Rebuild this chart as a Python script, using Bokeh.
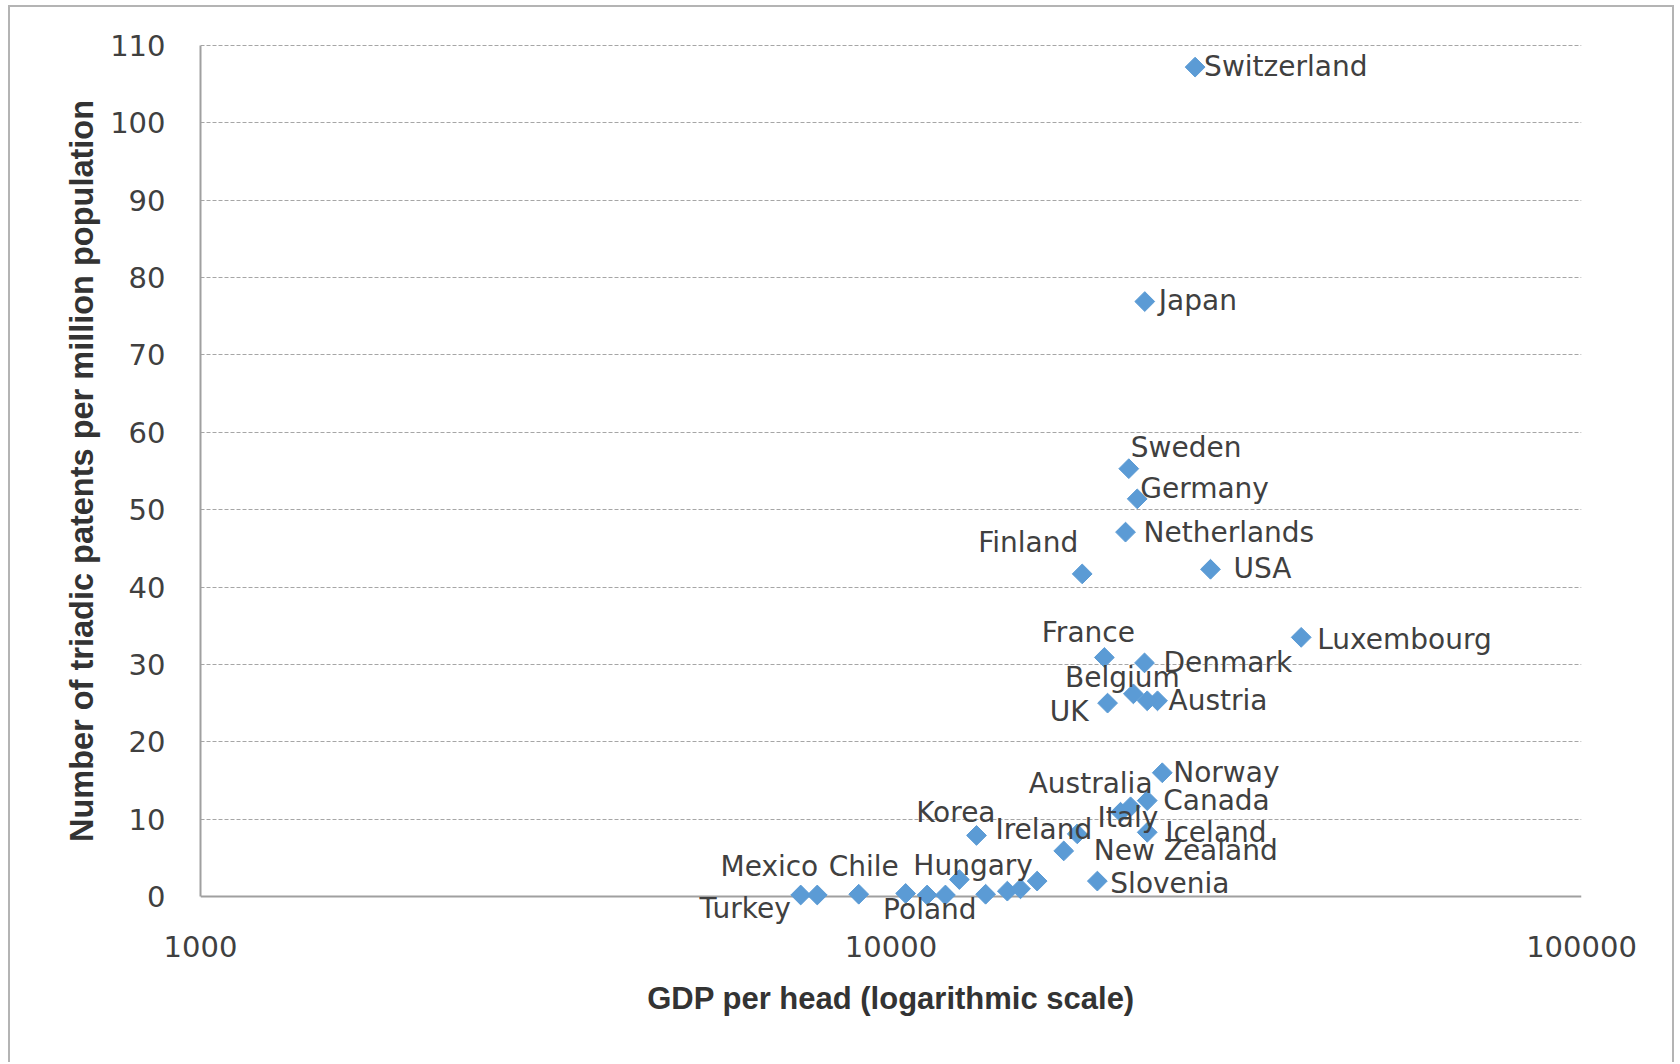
import math
from bokeh.plotting import figure
from bokeh.models import (ColumnDataSource, FixedTicker, PrintfTickFormatter,
                          LabelSet, Span, Range1d)
from bokeh.core.properties import value
from bokeh.embed import file_html
from bokeh.resources import INLINE

# ---------------- data ----------------
labels = ["Switzerland", "Japan", "Sweden", "Germany", "Netherlands", "Finland", "USA",
          "Luxembourg", "France", "Denmark", "Belgium", "Austria", "", "UK",
          "Norway", "Canada", "Italy", "Australia", "Iceland", "Ireland", "New Zealand",
          "Slovenia", "Korea", "Hungary", "", "Turkey", "Mexico", "Chile", "", "Poland",
          "", "", "", ""]
gdp_per_head = [27570, 23310, 22100, 22730, 21860, 18920, 29020,
                39270, 20370, 23290, 22440, 24320, 23500, 20590,
                24710, 23500, 22230, 21500, 23500, 18610, 17790,
                19900, 13300, 12560, 16280, 7400, 7820, 8980, 10500, 11280,
                11990, 13710, 14740, 15400]
patents_per_million = [107.2, 76.9, 55.3, 51.4, 47.1, 41.7, 42.3,
                       33.5, 30.9, 30.2, 26.2, 25.3, 25.3, 25.0,
                       16.0, 12.4, 11.6, 10.9, 8.3, 8.1, 5.9,
                       2.0, 7.9, 2.2, 2.0, 0.2, 0.2, 0.3, 0.4, 0.2,
                       0.2, 0.3, 0.7, 1.0]
x_ticks = [1000, 10000, 100000]
y_ticks = [0, 10, 20, 30, 40, 50, 60, 70, 80, 90, 100, 110]

# ---------------- label placement (layout only: align, dx, dy in px, dy down) ----------------
placement = {
    "Switzerland": ("left", 9, -1), "Japan": ("left", 14, -1),
    "Sweden": ("left", 2, -21), "Germany": ("left", 3, -10),
    "Netherlands": ("left", 18, 0), "Finland": ("right", -4, -31),
    "USA": ("left", 23, -1), "Luxembourg": ("left", 16, 2),
    "France": ("center", -16, -25), "Denmark": ("left", 19, 0),
    "Belgium": ("center", -11, -16), "Austria": ("left", 11, 0),
    "UK": ("right", -19, 8), "Norway": ("left", 11, 0),
    "Canada": ("left", 16, 0), "Italy": ("left", -33, 11),
    "Australia": ("right", 32, -29), "Iceland": ("left", 18, 0),
    "Ireland": ("right", 15, -4), "New Zealand": ("left", 30, 0),
    "Slovenia": ("left", 13, 2), "Korea": ("right", 19, -23),
    "Hungary": ("left", -46, -14), "Mexico": ("right", 1, -29),
    "Chile": ("left", -30, -28), "Turkey": ("right", -10, 13),
    "Poland": ("left", -44, 14),
}

TEXT = "#404040"
FONT = "DejaVu Sans"
AXIS_GREY = "#a0a0a0"

# the frame is padded by 4 units above and below so that labels under the
# zero line are not clipped and the y title stays centred on the 0-110 span
p = figure(width=1666, height=1057, x_axis_type="log",
           x_range=Range1d(1000, 100000), y_range=Range1d(-4, 114),
           output_backend="svg", toolbar_location=None,
           min_border_left=190, min_border_right=95,
           min_border_top=7, min_border_bottom=137)
p.margin = (5, 0, 0, 8)
p.styles = {"border-left": "2px solid #b4b4b4",
            "border-top": "2px solid #b4b4b4",
            "border-right": "2px solid #b4b4b4"}
p.outline_line_color = None
p.background_fill_color = "white"
p.border_fill_color = "white"

# grid
p.xgrid.visible = False
p.ygrid.ticker = FixedTicker(ticks=y_ticks[1:])
p.ygrid.grid_line_color = "#a6a6a6"
p.ygrid.grid_line_dash = "4 2"
p.ygrid.grid_line_width = 1

# axes
for ax in (p.xaxis[0], p.yaxis[0]):
    ax.major_tick_line_color = None
    ax.minor_tick_line_color = None
    ax.major_label_text_font = FONT
    ax.major_label_text_font_size = "29px"
    ax.major_label_text_color = TEXT
    ax.axis_label_text_font_style = "bold"
    ax.axis_label_text_color = "#333333"

p.xaxis.axis_line_color = None
p.xaxis.ticker = FixedTicker(ticks=x_ticks)
p.xaxis.formatter = PrintfTickFormatter(format="%d")
p.xaxis.major_label_standoff = 2
p.xaxis.axis_label = "GDP per head (logarithmic scale)"
p.xaxis.axis_label_text_font = "Liberation Sans"
p.xaxis.axis_label_text_font_size = "31px"
p.xaxis.axis_label_standoff = 21

p.yaxis.axis_line_color = AXIS_GREY
p.yaxis.axis_line_width = 2
p.yaxis.bounds = (0, 110)
p.yaxis.ticker = FixedTicker(ticks=y_ticks)
p.yaxis.major_label_standoff = 29
p.yaxis.axis_label = "Number of triadic patents per million population"
p.yaxis.axis_label_text_font = "Liberation Sans"
p.yaxis.axis_label_text_font_size = "32.5px"
p.yaxis.axis_label_standoff = 7

# horizontal axis line at zero, below the markers
zero_line = Span(location=0, dimension="width", line_color=AXIS_GREY, line_width=2,
                 level="underlay")
p.add_layout(zero_line)

# markers
src = ColumnDataSource(dict(x=gdp_per_head, y=patents_per_million))
p.scatter("x", "y", source=src, marker="square", angle=math.pi / 4, size=14,
          fill_color="#5B9BD5", line_color="#5B9BD5", line_width=1)

# labels grouped by alignment
for align in ("left", "right", "center"):
    xs, ys, ts, dxs, dys = [], [], [], [], []
    for lab, gx, py in zip(labels, gdp_per_head, patents_per_million):
        if not lab:
            continue
        a, dx, dy = placement[lab]
        if a != align:
            continue
        xs.append(gx); ys.append(py); ts.append(lab); dxs.append(dx); dys.append(-dy)
    if not ts:
        continue
    s = ColumnDataSource(dict(x=xs, y=ys, t=ts, dx=dxs, dy=dys))
    ls = LabelSet(x="x", y="y", text="t", source=s, x_offset="dx", y_offset="dy",
                  text_align=align, text_baseline="middle",
                  text_font=value(FONT), text_font_size="28px", text_color=TEXT)
    p.add_layout(ls)

open("out.html", "w").write(file_html(p, INLINE))
